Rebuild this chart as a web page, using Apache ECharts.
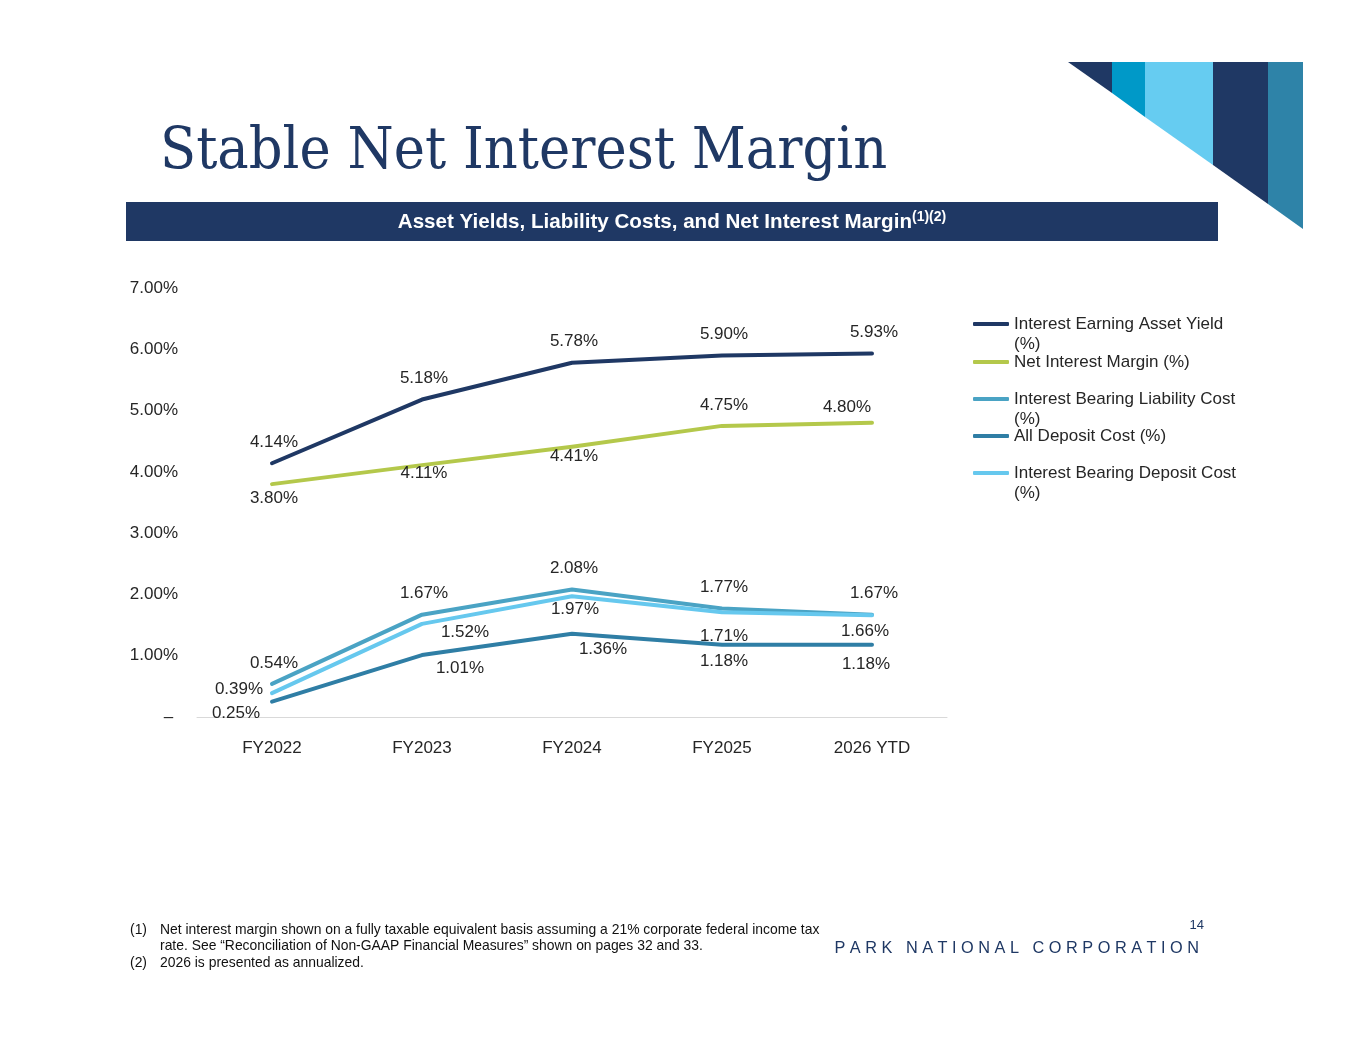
<!DOCTYPE html>
<html>
<head>
<meta charset="utf-8">
<script src="https://cdn.jsdelivr.net/npm/echarts@6/dist/echarts.min.js"></script>
<style>
html,body{margin:0;padding:0;background:#fff;}
#c{width:1365px;height:1055px;}
</style>
</head>
<body>
<div id="c"></div>
<script>
const categories = ['FY2022', 'FY2023', 'FY2024', 'FY2025', '2026 YTD'];
const seriesNames = [
  'Interest Earning Asset Yield (%)',
  'Net Interest Margin (%)',
  'Interest Bearing Liability Cost (%)',
  'All Deposit Cost (%)',
  'Interest Bearing Deposit Cost (%)'
];
const assetYield = [4.14, 5.18, 5.78, 5.90, 5.93];
const netInterestMargin = [3.80, 4.11, 4.41, 4.75, 4.80];
const liabilityCost = [0.54, 1.67, 2.08, 1.77, 1.67];
const allDepositCost = [0.25, 1.01, 1.36, 1.18, 1.18];
const depositCost = [0.39, 1.52, 1.97, 1.71, 1.66];
const yTickValues = [0, 1, 2, 3, 4, 5, 6, 7];

const seriesValues = [assetYield, netInterestMargin, liabilityCost, allDepositCost, depositCost];
const colors = ['#1f3864', '#b4c84b', '#4aa3c4', '#2f7ea5', '#66c8ee'];
// label placement (pixel offsets from each point)
const labelOffsets = [
  [[2,-21],[2,-21],[2,-21],[2,-21],[2,-21]],
  [[2,14],[2,8],[2,10],[2,-21],[-25,-16]],
  [[2,-21],[2,-21],[2,-21],[2,-21],[2,-21]],
  [[-36,12],[38,13],[31,16],[2,17],[-6,20]],
  [[-33,-4],[43,8],[3,13],[2,24],[-7,16]]
];
const legendWrapped = [
  ' \nInterest Earning Asset Yield\n(%)',
  'Net Interest Margin (%)',
  ' \nInterest Bearing Liability Cost\n(%)',
  'All Deposit Cost (%)',
  ' \nInterest Bearing Deposit Cost\n(%)'
];
const legendY = [324, 362, 399, 436, 473];

const FONT = '"Liberation Sans", Arial, sans-serif';
const NAVY = '#1f3864';
const FS = 17;

const chart = echarts.init(document.getElementById('c'), null, {renderer: 'canvas'});

const series = seriesValues.map((vals, si) => ({
  name: seriesNames[si],
  type: 'line',
  data: vals.map((v, i) => ({
    value: v,
    label: {offset: labelOffsets[si][i]}
  })),
  symbol: 'circle',
  symbolSize: 1,
  showSymbol: true,
  lineStyle: {width: 4, color: colors[si], cap: 'round', join: 'round'},
  itemStyle: {color: colors[si]},
  label: {
    show: true,
    position: 'inside',
    formatter: p => p.value.toFixed(2) + '%',
    fontFamily: FONT,
    fontSize: FS,
    color: '#262626'
  },
  emphasis: {disabled: true},
  z: 2 + si
}));

const legends = seriesNames.map((n, i) => {
  const lines = legendWrapped[i].split('\n').length;
  return {
    data: [n],
    orient: 'vertical',
    left: 973,
    top: legendY[i] - lines * 10,
    padding: 0,
    itemWidth: 36,
    itemHeight: 4,
    icon: 'roundRect',
    selectedMode: false,
    formatter: name => legendWrapped[seriesNames.indexOf(name)],
    textStyle: {fontFamily: FONT, fontSize: FS, color: '#262626', lineHeight: 20}
  };
});

const option = {
  animation: false,
  backgroundColor: '#ffffff',
  grid: {left: 197, right: 418, top: 288, bottom: 338, containLabel: false},
  xAxis: {
    type: 'category',
    data: categories,
    boundaryGap: true,
    axisLine: {show: true, lineStyle: {color: '#d9d9d9', width: 1}},
    axisTick: {show: false},
    axisLabel: {fontFamily: FONT, fontSize: FS, color: '#262626', margin: 23}
  },
  yAxis: {
    type: 'value',
    min: yTickValues[0],
    max: yTickValues[yTickValues.length - 1],
    interval: 1,
    axisLine: {show: false},
    axisTick: {show: false},
    splitLine: {show: false},
    axisLabel: {
      fontFamily: FONT, fontSize: FS, color: '#262626', margin: 19,
      formatter: v => v === 0 ? '– ' : v.toFixed(2) + '%'
    }
  },
  legend: legends,
  series: series,
  graphic: [
    // corner decoration
    {type: 'polygon', shape: {points: [[1068,62],[1112,62],[1112,93]]}, style: {fill: NAVY}},
    {type: 'polygon', shape: {points: [[1112,62],[1145,62],[1145,117],[1112,93]]}, style: {fill: '#0099c8'}},
    {type: 'polygon', shape: {points: [[1145,62],[1213,62],[1213,165],[1145,117]]}, style: {fill: '#66ccf1'}},
    {type: 'polygon', shape: {points: [[1213,62],[1268,62],[1268,204],[1213,165]]}, style: {fill: NAVY}},
    {type: 'polygon', shape: {points: [[1268,62],[1303,62],[1303,229],[1268,204]]}, style: {fill: '#2e83a8'}},
    // title
    {type: 'text', x: 160, y: 153, scaleX: 0.91,
      style: {text: 'Stable Net Interest Margin', x: 0, y: 0, fill: NAVY,
        font: '58px "DejaVu Serif", Georgia, serif', verticalAlign: 'middle', align: 'left'}},
    // header band
    {type: 'rect', shape: {x: 126, y: 202, width: 1092, height: 39}, style: {fill: NAVY}},
    {type: 'text', x: 672, y: 222,
      style: {
        text: '{a|Asset Yields, Liability Costs, and Net Interest Margin}{s|(1)(2)}',
        align: 'center', verticalAlign: 'middle',
        rich: {
          a: {fontFamily: FONT, fontWeight: 'bold', fontSize: 20.6, fill: '#ffffff', lineHeight: 24},
          s: {fontFamily: FONT, fontWeight: 'bold', fontSize: 14, fill: '#ffffff', lineHeight: 24, verticalAlign: 'top', padding: [0,0,10,0]}
        }
      }},
    // footnotes
    {type: 'text', x: 130, y: 930, style: {text: '(1)', font: '13.9px ' + FONT, fill: '#111', verticalAlign: 'middle'}},
    {type: 'text', x: 160, y: 930, style: {text: 'Net interest margin shown on a fully taxable equivalent basis assuming a 21% corporate federal income tax', font: '13.9px ' + FONT, fill: '#111', verticalAlign: 'middle'}},
    {type: 'text', x: 160, y: 946, style: {text: 'rate. See \u201cReconciliation of Non-GAAP Financial Measures\u201d shown on pages 32 and 33.', font: '13.9px ' + FONT, fill: '#111', verticalAlign: 'middle'}},
    {type: 'text', x: 130, y: 963, style: {text: '(2)', font: '13.9px ' + FONT, fill: '#111', verticalAlign: 'middle'}},
    {type: 'text', x: 160, y: 963, style: {text: '2026 is presented as annualized.', font: '13.9px ' + FONT, fill: '#111', verticalAlign: 'middle'}},
    // page number & company
    {type: 'text', x: 1204, y: 925, style: {text: '14', font: '13px ' + FONT, fill: NAVY, align: 'right', verticalAlign: 'middle'}},
    {type: 'text', x: 1199, y: 949, style: {text: 'P A R K   N A T I O N A L   C O R P O R A T I O N', font: '16.3px ' + FONT, fill: NAVY, align: 'right', verticalAlign: 'middle'}}
  ]
};
chart.setOption(option);
</script>
</body>
</html>
